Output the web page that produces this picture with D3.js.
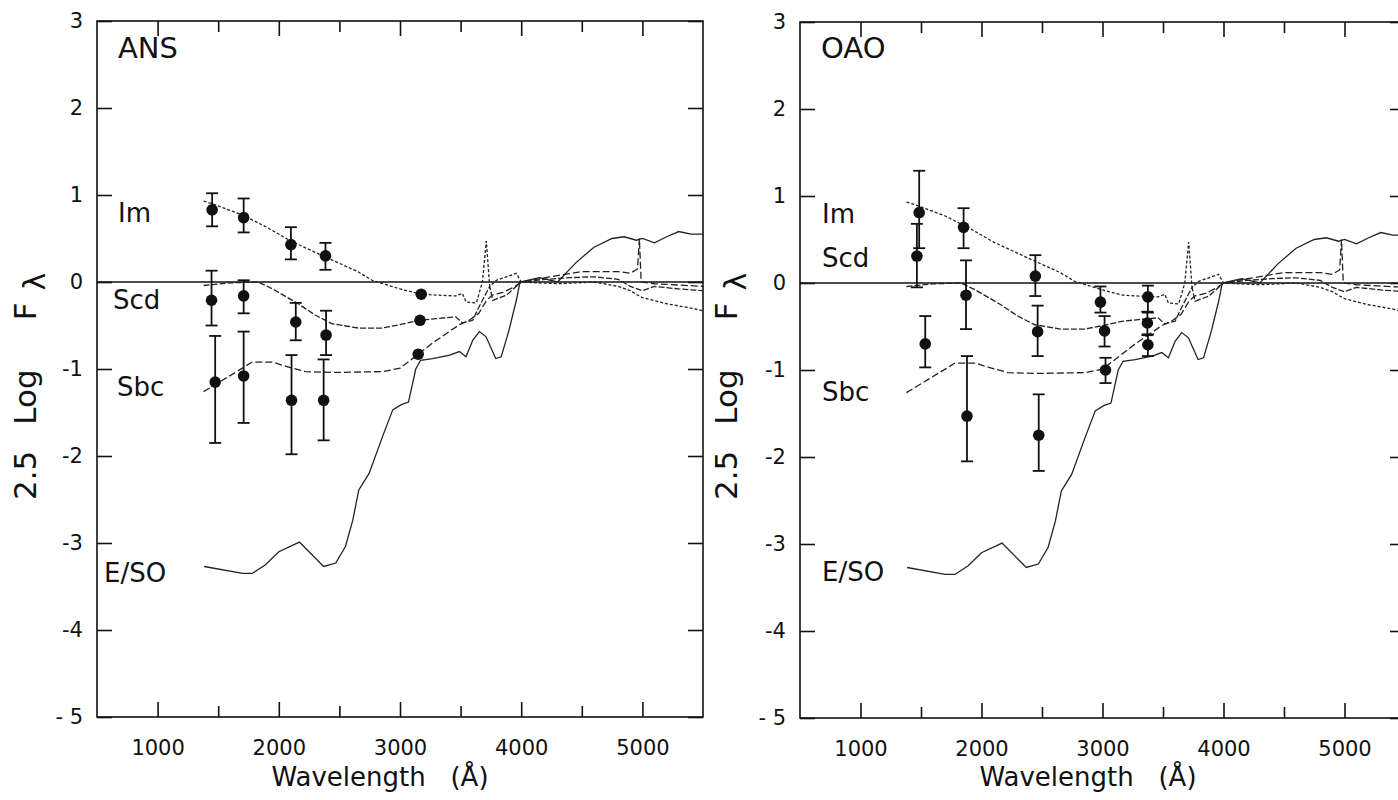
<!DOCTYPE html>
<html>
<head>
<meta charset="utf-8">
<script src="https://cdn.jsdelivr.net/npm/d3@7"></script>
<style>
  html, body { margin: 0; padding: 0; background: #fff; }
  svg { display: block; }
  text { font-family: "DejaVu Sans", sans-serif; fill: #111; }
</style>
</head>
<body>
<svg id="chart" width="1398" height="800"></svg>
<script>
// ---------------- DATA ----------------
const xMajorTicks = [1000, 2000, 3000, 4000, 5000];
const xMinorTicks = [1500, 2500, 3500, 4500];
const yTicks = [-5, -4, -3, -2, -1, 0, 1, 2, 3];
const yTickLabels = ["- 5", "-4", "-3", "-2", "-1", "0", "1", "2", "3"];
const panelNames = ["ANS", "OAO"];
const curveNames = ["Im", "Scd", "Sbc", "E/SO"];

// Model spectra (2.5 log F_lambda, normalised near 4000 A)
const imWave = [1380,1450,1700,1900,2100,2380,2650,2770,3000,3170,3300,3460,3515,3545,3630,3680,3712,3740,3795,3880,3960,4000,4300,4600,4800,4900,4960,5000,5200,5400,5500];
const imFlux = [0.93,0.90,0.77,0.63,0.47,0.29,0.12,0.02,-0.08,-0.14,-0.15,-0.16,-0.13,-0.23,-0.24,0.0,0.47,-0.05,0.02,0.06,0.10,0.0,-0.02,0.0,-0.05,-0.10,-0.15,-0.18,-0.25,-0.30,-0.33];

const scdWave = [1380,1600,1830,1950,2160,2300,2440,2660,2850,3000,3160,3300,3460,3515,3600,3640,3680,3740,3765,3880,3960,4000,4200,4400,4600,4800,4900,5000,5100,5300,5500];
const scdFlux = [-0.04,-0.01,0.0,-0.08,-0.25,-0.38,-0.48,-0.53,-0.53,-0.49,-0.44,-0.42,-0.40,-0.47,-0.44,-0.32,-0.21,-0.05,-0.21,-0.15,-0.05,0.0,0.03,0.05,0.06,0.03,-0.05,-0.10,-0.05,-0.08,-0.10];

const sbcWave = [1380,1700,1780,1950,2060,2220,2440,2860,3000,3150,3270,3490,3570,3650,3710,3760,3850,3950,4000,4200,4500,4800,4900,4960,4975,4990,5100,5500];
const sbcFlux = [-1.26,-0.99,-0.92,-0.92,-0.97,-1.03,-1.04,-1.03,-0.99,-0.83,-0.70,-0.49,-0.44,-0.36,-0.22,-0.15,-0.12,-0.05,0.0,0.05,0.12,0.12,0.10,0.15,0.50,0.0,-0.02,-0.05];

const e0Wave = [1385,1700,1780,1890,2000,2170,2370,2470,2550,2610,2660,2745,2855,2940,3010,3070,3130,3170,3270,3410,3490,3545,3600,3655,3710,3790,3835,3900,3960,3990,4150,4300,4450,4600,4750,4850,4950,5000,5100,5200,5300,5400,5500];
const e0Flux = [-3.27,-3.35,-3.35,-3.25,-3.10,-2.99,-3.27,-3.23,-3.04,-2.74,-2.39,-2.20,-1.78,-1.47,-1.41,-1.38,-1.00,-0.90,-0.88,-0.84,-0.80,-0.86,-0.67,-0.57,-0.63,-0.88,-0.86,-0.55,-0.21,0.0,0.05,0.0,0.22,0.40,0.50,0.52,0.48,0.50,0.45,0.52,0.58,0.55,0.55];

// ANS observations
const ansImWave = [1450,1710,2100,2385,3175];
const ansImVal  = [0.83,0.74,0.43,0.30,-0.14];
const ansImHi   = [1.02,0.96,0.63,0.45,null];
const ansImLo   = [0.64,0.57,0.26,0.14,null];

const ansScdWave = [1445,1710,2140,2390,3165];
const ansScdVal  = [-0.21,-0.16,-0.46,-0.61,-0.44];
const ansScdHi   = [0.13,0.02,-0.24,-0.33,null];
const ansScdLo   = [-0.50,-0.36,-0.67,-0.84,null];

const ansSbcWave = [1475,1710,2105,2370,3150];
const ansSbcVal  = [-1.15,-1.08,-1.36,-1.36,-0.83];
const ansSbcHi   = [-0.62,-0.57,-0.84,-0.89,null];
const ansSbcLo   = [-1.85,-1.62,-1.98,-1.82,null];

// OAO observations
const oaoImWave = [1485,1852,2445,2983,3375];
const oaoImVal  = [0.81,0.64,0.08,-0.22,-0.16];
const oaoImHi   = [1.29,0.86,0.32,-0.04,-0.03];
const oaoImLo   = [0.40,0.40,-0.15,-0.34,-0.34];

const oaoScdWave = [1466,1872,2464,3017,3371];
const oaoScdVal  = [0.31,-0.14,-0.56,-0.55,-0.46];
const oaoScdHi   = [0.68,0.26,-0.26,-0.38,-0.33];
const oaoScdLo   = [-0.05,-0.53,-0.84,-0.73,-0.60];

const oaoSbcWave = [1535,1880,2473,3025,3375];
const oaoSbcVal  = [-0.70,-1.53,-1.75,-1.00,-0.71];
const oaoSbcHi   = [-0.38,-0.84,-1.28,-0.86,-0.59];
const oaoSbcLo   = [-0.97,-2.05,-2.16,-1.15,-0.84];

// ---------------- BUILD ----------------
const zip = (w, v) => w.map((x, i) => ({ x, y: v[i] }));
const models = [
  { name: "Im",   pts: zip(imWave, imFlux),  dash: "3,2" },
  { name: "Scd",  pts: zip(scdWave, scdFlux), dash: "6,2" },
  { name: "Sbc",  pts: zip(sbcWave, sbcFlux), dash: "7,3" },
  { name: "E/SO", pts: zip(e0Wave, e0Flux),  dash: null }
];
const obs = (w, v, hi, lo) => w.map((x, i) => ({ x, y: v[i], hi: hi[i], lo: lo[i] }));

const panels = [
  {
    name: panelNames[0], xr: [97, 703], yr: [717, 21],
    obs: [obs(ansImWave, ansImVal, ansImHi, ansImLo),
          obs(ansScdWave, ansScdVal, ansScdHi, ansScdLo),
          obs(ansSbcWave, ansSbcVal, ansSbcHi, ansSbcLo)],
    labelPos: [[118, 222], [113, 309], [117, 396], [104, 582]],
    titlePos: [118, 58], yTitleX: 36, xTitleX: 380
  },
  {
    name: panelNames[1], xr: [800, 1405], yr: [718, 22],
    obs: [obs(oaoImWave, oaoImVal, oaoImHi, oaoImLo),
          obs(oaoScdWave, oaoScdVal, oaoScdHi, oaoScdLo),
          obs(oaoSbcWave, oaoSbcVal, oaoSbcHi, oaoSbcLo)],
    labelPos: [[822, 223], [822, 267], [822, 401], [822, 581]],
    titlePos: [821, 58], yTitleX: 737, xTitleX: 1088
  }
];

const svg = d3.select("#chart");

panels.forEach(p => {
  const x = d3.scaleLinear().domain([500, 5500]).range(p.xr);
  const y = d3.scaleLinear().domain([-5, 3]).range(p.yr);
  const g = svg.append("g");

  // frame
  g.append("rect")
    .attr("x", p.xr[0]).attr("y", p.yr[1])
    .attr("width", p.xr[1] - p.xr[0]).attr("height", p.yr[0] - p.yr[1])
    .attr("fill", "none").attr("stroke", "#111").attr("stroke-width", 1.6);

  const styleAxis = sel => {
    sel.select(".domain").remove();
    sel.selectAll(".tick line").attr("stroke", "#111").attr("stroke-width", 1.6);
    sel.selectAll("text").style("font-size", "21px").attr("fill", "#111");
  };

  // bottom axis: major with labels, minor without
  g.append("g").attr("transform", `translate(0,${p.yr[0]})`)
    .call(d3.axisBottom(x).tickValues(xMajorTicks).tickSize(-15).tickPadding(23).tickFormat(d3.format("d")))
    .call(styleAxis);
  g.append("g").attr("transform", `translate(0,${p.yr[0]})`)
    .call(d3.axisBottom(x).tickValues(xMinorTicks).tickSize(-11).tickFormat(""))
    .call(styleAxis);
  // top axis
  g.append("g").attr("transform", `translate(0,${p.yr[1]})`)
    .call(d3.axisTop(x).tickValues(xMajorTicks).tickSize(-15).tickFormat(""))
    .call(styleAxis);
  g.append("g").attr("transform", `translate(0,${p.yr[1]})`)
    .call(d3.axisTop(x).tickValues(xMinorTicks).tickSize(-11).tickFormat(""))
    .call(styleAxis);
  // left axis
  g.append("g").attr("transform", `translate(${p.xr[0]},0)`)
    .call(d3.axisLeft(y).tickValues(yTicks).tickSize(-15).tickPadding(14)
      .tickFormat(d => yTickLabels[yTicks.indexOf(d)]))
    .call(styleAxis);
  // right axis
  g.append("g").attr("transform", `translate(${p.xr[1]},0)`)
    .call(d3.axisRight(y).tickValues(yTicks).tickSize(-15).tickFormat(""))
    .call(styleAxis);

  // zero line
  g.append("line")
    .attr("x1", x(500)).attr("x2", x(5500)).attr("y1", y(0)).attr("y2", y(0))
    .attr("stroke", "#111").attr("stroke-width", 1.4);

  // clip for curves
  const clipId = "clip-" + p.name;
  svg.append("clipPath").attr("id", clipId).append("rect")
    .attr("x", p.xr[0]).attr("y", p.yr[1])
    .attr("width", p.xr[1] - p.xr[0]).attr("height", p.yr[0] - p.yr[1]);

  const line = d3.line().x(d => x(d.x)).y(d => y(d.y));
  const cg = g.append("g").attr("clip-path", `url(#${clipId})`);
  models.forEach(m => {
    cg.append("path").datum(m.pts)
      .attr("d", line)
      .attr("fill", "none")
      .attr("stroke", "#222")
      .attr("stroke-width", 1.3)
      .attr("stroke-dasharray", m.dash);
  });

  // observations with error bars
  p.obs.forEach(series => {
    series.forEach(d => {
      if (d.hi != null) {
        g.append("line").attr("x1", x(d.x)).attr("x2", x(d.x))
          .attr("y1", y(d.hi)).attr("y2", y(d.lo))
          .attr("stroke", "#111").attr("stroke-width", 1.8);
        [d.hi, d.lo].forEach(v => {
          g.append("line").attr("x1", x(d.x) - 6).attr("x2", x(d.x) + 6)
            .attr("y1", y(v)).attr("y2", y(v))
            .attr("stroke", "#111").attr("stroke-width", 1.8);
        });
      }
      g.append("circle").attr("cx", x(d.x)).attr("cy", y(d.y)).attr("r", 5.8).attr("fill", "#111");
    });
  });

  // curve labels
  curveNames.forEach((n, i) => {
    g.append("text").attr("x", p.labelPos[i][0]).attr("y", p.labelPos[i][1])
      .style("font-size", "26px").text(n);
  });

  // panel title
  g.append("text").attr("x", p.titlePos[0]).attr("y", p.titlePos[1])
    .style("font-size", "29px").text(p.name);

  // y title (wide spacing as in the original)
  const yt = g.append("text")
    .attr("transform", `translate(${p.yTitleX},500) rotate(-90)`)
    .attr("text-anchor", "start")
    .style("font-size", "31px");
  yt.append("tspan").text("2.5");
  yt.append("tspan").attr("dx", 26).text("Log");
  yt.append("tspan").attr("dx", 49).text("F");
  yt.append("tspan").attr("dx", 12).attr("dy", 9).style("font-size", "30px").text("λ");

  // x title
  g.append("text").attr("x", p.xTitleX).attr("y", 786)
    .attr("text-anchor", "middle")
    .style("font-size", "26px")
    .style("white-space", "pre")
    .attr("xml:space", "preserve")
    .text("Wavelength   (Å)");
});
</script>
</body>
</html>
